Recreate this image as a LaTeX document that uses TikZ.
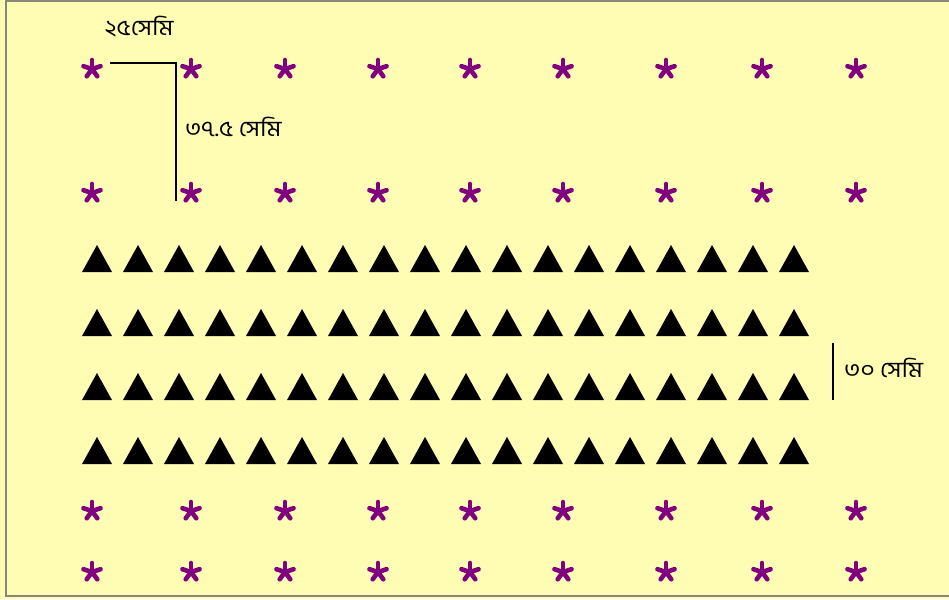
\documentclass[tikz,border=0pt]{standalone}
\usepackage{fontspec}
\usepackage{graphicx}
\newfontfamily\bangla[Script=Bengali]{Hind Siliguri}
\usetikzlibrary{positioning}
\definecolor{paper}{RGB}{255,253,180}
\definecolor{plantPurple}{RGB}{128,0,128}
\definecolor{frameGray}{RGB}{135,135,125}
\newcommand\widelabel[1]{\scalebox{1.12}[1]{#1}}
\tikzset{
    plant/.pic={
        \foreach \a in {270,342,54,126,198}
            \draw[plantPurple, line width=4.6pt, line cap=round] (0,0) -- (\a:9);
    },
    seedling/.pic={
        \fill[black] (-15,13.5) -- (15,13.5) -- (0,-13.5) -- cycle;
    },
    dimLabel/.style={font=\bangla\fontsize{22}{24}\selectfont, text=black, inner sep=1pt},
    dimLine/.style={draw=black, line width=1.8pt}
}
\begin{document}
\begin{tikzpicture}[x=1pt, y=-1pt]
    \useasboundingbox (0,0) rectangle (949,599);
    \clip (0,0) rectangle (949,599);
    \fill[paper] (0,0) rectangle (949,599);
    \draw[frameGray, line width=2pt] (5.5,1.5) rectangle (960,596);

    % Purple rows (outer)
    \foreach \y [count=\r] in {69,193,511,572}
        \foreach \x [count=\c] in {92,191,285,378,470,563,666,762,856}
            \pic (p\r-\c) at (\x,\y) {plant};

    % Black rows (inner)
    \foreach \y [count=\r] in {258.5,322.5,386.5,450.5}
        \foreach \c in {0,...,17}
            \pic (t\r-\c) at ({97+41*\c},\y) {seedling};

    % Spacing marks
    \coordinate (rowA) at (110,63);
    \coordinate (rowB) at (176,201);
    \draw[dimLine] (rowA) -| (rowB);
    \node[dimLabel] (lblPlant) at (139,27) {\widelabel{২৫সেমি}};
    \node[dimLabel, anchor=west] (lblRow) at (184,127) {\widelabel{৩৭.৫ সেমি}};

    \coordinate (gapA) at (833,343);
    \coordinate (gapB) at (833,400);
    \draw[dimLine] (gapA) -- (gapB);
    \node[dimLabel, anchor=west] (lblGap) at (843,368) {\widelabel{৩০ সেমি}};
\end{tikzpicture}
\end{document}
